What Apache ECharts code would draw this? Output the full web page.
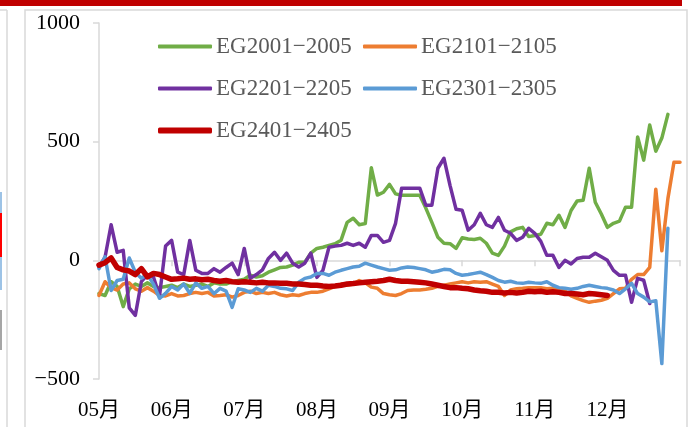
<!DOCTYPE html>
<html>
<head>
<meta charset="utf-8">
<script src="https://cdn.jsdelivr.net/npm/echarts@6/dist/echarts.min.js"></script>
<style>
  html, body { margin: 0; padding: 0; background: #fff; }
  #main { width: 695px; height: 427px; }
</style>
</head>
<body>
<div id="main"></div>
<script>
// 12 samples per month, 05月 .. end of 12月
var monthLabels = ['05月', '06月', '07月', '08月', '09月', '10月', '11月', '12月'];
var yTicks = [-500, 0, 500, 1000];

var eg2001 = [-140, -148, -90, -110, -195, -120, -100, -110, -95, -110, -115, -110,
  -105, -115, -100, -110, -105, -100, -110, -95, -100, -100, -90, -85,
  -80, -63, -70, -65, -50, -40, -30, -28, -20, -8, -8, 30,
  50, 55, 63, 70, 85, 160, 177, 150, 155, 390, 275, 287,
  320, 280, 274, 274, 274, 274, 220, 160, 97, 72, 70, 50,
  95, 90, 88, 93, 72, 30, 21, 60, 120, 133, 139, 100,
  105, 110, 156, 150, 190, 139, 210, 250, 253, 388, 245, 195,
  139, 156, 165, 224, 224, 520, 422, 570, 460, 515, 615, null, null];

var eg2101 = [-148, -90, -115, -125, -100, -95, -120, -130, -115, -130, -148, -150,
  -140, -150, -148, -140, -135, -140, -135, -150, -148, -145, -155, -148,
  -135, -130, -140, -135, -140, -135, -145, -150, -145, -148, -140, -135,
  -135, -130, -120, -110, -100, -105, -100, -85, -95, -113, -118, -140,
  -145, -148, -140, -127, -125, -125, -122, -118, -110, -105, -100, -95,
  -90, -95, -90, -92, -90, -100, -110, -148, -125, -120, -118, -115,
  -115, -115, -120, -118, -125, -130, -150, -160, -170, -177, -172, -168,
  -160, -140, -120, -118, -80, -60, -60, -30, 300, 40, 260, 413, 413];

var eg2201 = [-28, 13, 150, 34, 42, -200, -232, -90, -60, -70, -150, 60,
  84, -50, -60, 84, -42, -55, -55, -35, -50, -30, -12, -60,
  50, -76, -60, -40, 8, 34, 0, 30, -12, -28, -12, 30,
  -72, -42, 55, 60, 63, 72, 63, 72, 55, 105, 105, 76,
  84, 156, 304, 304, 304, 304, 232, 232, 388, 430, 316, 215,
  211, 127, 150, 198, 150, 139, 181, 127, 114, 84, 97, 135,
  114, 80, 21, 21, -30, 0, -15, 8, 13, 13, 30, 15,
  0, -42, -63, -63, -177, -76, -84, -182, null, null, null, null, null];

var eg2301 = [-35, 15, -127, -85, -80, 10, -50, -75, -60, -100, -160, -139,
  -110, -125, -100, -139, -95, -118, -110, -140, -118, -130, -198, -120,
  -125, -135, -118, -130, -105, -110, -118, -120, -127, -92, -76, -70,
  -55, -55, -63, -50, -42, -35, -28, -25, -12, -20, -28, -35,
  -42, -40, -32, -28, -30, -35, -40, -50, -45, -38, -40, -55,
  -63, -60, -55, -50, -60, -72, -85, -92, -88, -95, -97, -92,
  -95, -97, -90, -105, -115, -118, -122, -118, -110, -105, -110, -115,
  -118, -125, -140, -120, -97, -140, -155, -175, -170, -435, 135, null, null];

var eg2401 = [-20, -10, 10, -30, -40, -45, -60, -35, -70, -55, -60, -70,
  -80, -78, -75, -80, -78, -82, -80, -85, -88, -85, -90, -92,
  -90, -92, -95, -92, -95, -95, -97, -97, -100, -100, -102, -105,
  -105, -108, -110, -108, -105, -100, -98, -95, -92, -90, -88, -85,
  -80, -85, -88, -88, -90, -92, -95, -100, -105, -110, -115, -115,
  -118, -120, -125, -128, -130, -135, -135, -138, -135, -138, -135, -130,
  -132, -130, -135, -132, -135, -140, -140, -142, -145, -140, -142, -145,
  -148];

var seriesNames = ['EG2001\u22122005', 'EG2101\u22122105', 'EG2201\u22122205', 'EG2301\u22122305', 'EG2401\u22122405'];
var seriesData = [eg2001, eg2101, eg2201, eg2301, eg2401];
var colors = ['#70ad47', '#ed7d31', '#7030a0', '#5b9bd5', '#c00000'];
var lineWidths = [3.5, 3.5, 3.5, 3.5, 5.5];

var categories = [];
for (var i = 0; i <= 96; i++) categories.push(i);

var serif = "'Liberation Serif', 'Times New Roman', 'Noto Sans CJK SC', serif";

var dom = document.getElementById('main');
var myChart = echarts.init(dom, null, { renderer: 'canvas' });

// legend boxes: two columns, three rows
var legendPos = [[158, 35], [363, 35], [158, 77], [363, 77], [158, 119]];

var option = {
  animation: false,
  color: colors,
  grid: { left: 99, right: 15, top: 23, bottom: 48 },
  legend: seriesNames.map(function (name, k) {
    return {
      data: [name],
      left: legendPos[k][0],
      top: legendPos[k][1],
      padding: 0,
      icon: 'roundRect',
      itemWidth: 54,
      itemHeight: k === 4 ? 6 : 4,
      textStyle: { fontFamily: serif, fontSize: 23, color: '#595959', padding: [0, 0, 0, -1] }
    };
  }),
  xAxis: [
    {
      type: 'category',
      data: categories,
      boundaryGap: false,
      axisLine: { onZero: true, lineStyle: { color: '#d9d9d9', width: 1.5 } },
      axisTick: { show: true, interval: 11, length: 6, lineStyle: { color: '#d9d9d9', width: 1.5 } },
      axisLabel: { show: false },
      splitLine: { show: false }
    },
    {
      type: 'category',
      data: categories,
      boundaryGap: false,
      position: 'bottom',
      axisLine: { show: false, onZero: false },
      axisTick: { show: false },
      axisLabel: {
        interval: 11,
        margin: 21,
        fontFamily: serif,
        fontSize: 21,
        color: '#000',
        formatter: function (v, idx) {
          return monthLabels[idx / 12] || '';
        }
      },
      splitLine: { show: false }
    }
  ],
  yAxis: {
    type: 'value',
    min: yTicks[0],
    max: yTicks[yTicks.length - 1],
    interval: 500,
    axisLine: { show: true, lineStyle: { color: '#d9d9d9', width: 1.5 } },
    axisTick: { show: true, length: 6, lineStyle: { color: '#d9d9d9', width: 1.5 } },
    splitLine: { show: false },
    axisLabel: {
      margin: 19,
      fontFamily: serif,
      fontSize: 22,
      color: '#000',
      formatter: function (v) { return v < 0 ? '\u2212' + Math.abs(v) : String(v); }
    }
  },
  graphic: [
    { type: 'rect', shape: { x: 0, y: 0, width: 682, height: 6 }, style: { fill: '#c00000' }, silent: true },
    { type: 'rect', shape: { x: 25, y: 10, width: 662, height: 430 }, style: { fill: 'none', stroke: '#d9d9d9', lineWidth: 1.5 }, silent: true },
    { type: 'line', shape: { x1: 7, y1: 10, x2: 7, y2: 427 }, style: { stroke: '#d9d9d9', lineWidth: 1.5 }, silent: true },
    { type: 'line', shape: { x1: 0, y1: 10, x2: 7, y2: 10 }, style: { stroke: '#d9d9d9', lineWidth: 1.5 }, silent: true },
    { type: 'rect', shape: { x: 0, y: 192, width: 2, height: 98 }, style: { fill: '#9dc3e6' }, silent: true },
    { type: 'rect', shape: { x: 0, y: 213, width: 2, height: 44 }, style: { fill: '#ff0000' }, silent: true },
    { type: 'rect', shape: { x: 0, y: 310, width: 2, height: 40 }, style: { fill: '#a6a6a6' }, silent: true }
  ],
  series: seriesData.map(function (d, k) {
    return {
      name: seriesNames[k],
      type: 'line',
      data: d,
      showSymbol: false,
      symbol: 'none',
      connectNulls: false,
      lineStyle: { width: lineWidths[k], color: colors[k], join: 'round', cap: 'round' },
      itemStyle: { color: colors[k] },
      z: 2 + k
    };
  })
};

if (option && typeof option === 'object') {
  myChart.setOption(option);
}

window.addEventListener('resize', myChart.resize);
</script>
</body>
</html>
